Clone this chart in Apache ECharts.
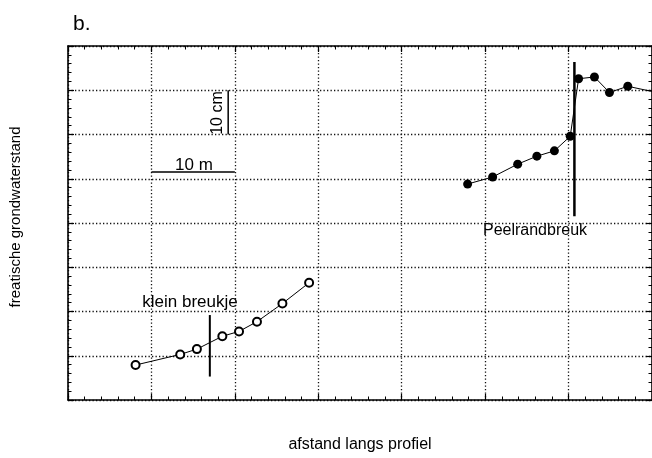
<!DOCTYPE html>
<html>
<head>
<meta charset="utf-8">
<script src="https://cdn.jsdelivr.net/npm/echarts@6/dist/echarts.min.js"></script>
<style>
  html, body { margin: 0; padding: 0; background: #fff; }
  #chart { width: 652px; height: 458px; }
</style>
</head>
<body>
<div id="chart"></div>
<script>
// afstand (m) en grondwaterstand (cm)
var kleinX = [8.1, 13.45, 15.45, 18.5, 20.5, 22.65, 25.7, 28.9]
var kleinY = [7.9, 10.3, 11.5, 14.4, 15.5, 17.7, 21.8, 26.5]

var peelX = [47.9, 50.9, 53.9, 56.2, 58.3, 60.2, 61.2, 63.1, 64.9, 67.1, 70.3]
var peelY = [48.8, 50.4, 53.3, 55.1, 56.3, 59.6, 72.6, 73.0, 69.5, 70.9, 69.6]

// breuken: x-positie en y van onder tot boven
var breukKleinX = [17.0, 17.0]
var breukKleinY = [5.3, 19.2]
var breukPeelX = [60.7, 60.7]
var breukPeelY = [41.5, 76.4]

// schaalstreepjes 10 m en 10 cm
var schaalMX = [10, 20]
var schaalMY = [51.5, 51.5]
var schaalCmX = [19.2, 19.2]
var schaalCmY = [60, 70]

function zip(xs, ys) {
  return xs.map(function(x, i) { return [x, ys[i]] })
}

var font = 'Liberation Sans, Arial, Helvetica, sans-serif'

function xas(pos, grid) {
  return {
    type: 'value',
    position: pos,
    min: 0,
    max: 70,
    interval: 10,
    axisLine: { show: true, onZero: false, lineStyle: { color: '#000', width: 1.6 } },
    axisTick: { show: true, inside: true, length: 6, lineStyle: { color: '#000', width: 1.2 } },
    minorTick: { show: true, splitNumber: 5, length: 3.5, lineStyle: { color: '#000', width: 1 } },
    axisLabel: { show: false },
    splitLine: { show: grid, lineStyle: { type: [1.3, 2.2], color: '#111', width: 1.3 } }
  }
}

function yas(pos, grid) {
  return {
    type: 'value',
    position: pos,
    min: 0,
    max: 80,
    interval: 10,
    axisLine: { show: true, onZero: false, lineStyle: { color: '#000', width: 1.6 } },
    axisTick: { show: true, inside: true, length: 6, lineStyle: { color: '#000', width: 1.2 } },
    minorTick: { show: true, splitNumber: 5, length: 3.5, lineStyle: { color: '#000', width: 1 } },
    axisLabel: { show: false },
    splitLine: { show: grid, lineStyle: { type: [1.3, 2.2], color: '#111', width: 1.3 } }
  }
}

var xBottom = xas('bottom', true)
xBottom.name = 'afstand langs profiel'
xBottom.nameLocation = 'middle'
xBottom.nameGap = 37
xBottom.nameTextStyle = { fontSize: 16, color: '#000', fontFamily: font }

var yLeft = yas('left', true)
yLeft.name = 'freatische grondwaterstand'
yLeft.nameLocation = 'middle'
yLeft.nameGap = 45
yLeft.nameTextStyle = { fontSize: 15, color: '#000', fontFamily: font, padding: [0, 0, 0, 12] }

var myChart = echarts.init(document.getElementById('chart'))
myChart.setOption({
  animation: false,
  backgroundColor: '#fff',
  textStyle: { fontFamily: font },
  title: {
    text: 'b.',
    left: 68,
    top: 9,
    textStyle: { fontSize: 21, fontWeight: 'normal', color: '#000', fontFamily: font }
  },
  grid: { left: 68, top: 46, right: -4, bottom: 50 },
  xAxis: [xBottom, xas('top', false)],
  yAxis: [yLeft, yas('right', false)],
  series: [
    {
      name: 'klein breukje',
      type: 'line',
      data: zip(kleinX, kleinY),
      symbol: 'emptyCircle',
      symbolSize: 8,
      lineStyle: { color: '#000', width: 1 },
      itemStyle: { color: '#000', borderWidth: 1 }
    },
    {
      name: 'Peelrandbreuk',
      type: 'line',
      data: zip(peelX, peelY),
      symbol: 'circle',
      symbolSize: 9,
      lineStyle: { color: '#000', width: 1 },
      itemStyle: { color: '#000' }
    },
    {
      type: 'line',
      data: zip(breukKleinX, breukKleinY),
      symbol: 'none',
      lineStyle: { color: '#000', width: 2 }
    },
    {
      type: 'line',
      data: zip(breukPeelX, breukPeelY),
      symbol: 'none',
      lineStyle: { color: '#000', width: 2.5 }
    },
    {
      type: 'line',
      data: zip(schaalMX, schaalMY),
      symbol: 'none',
      lineStyle: { color: '#000', width: 1.5 }
    },
    {
      type: 'line',
      data: zip(schaalCmX, schaalCmY),
      symbol: 'none',
      lineStyle: { color: '#000', width: 1.5 }
    }
  ],
  graphic: [
    {
      type: 'text', x: 194, y: 165,
      style: { text: '10 m', fill: '#000', font: '17px ' + font, textAlign: 'center', textVerticalAlign: 'middle' }
    },
    {
      type: 'text', x: 218, y: 113, rotation: Math.PI / 2,
      style: { text: '10 cm', fill: '#000', font: '16px ' + font, textAlign: 'center', textVerticalAlign: 'middle' }
    },
    {
      type: 'text', x: 190, y: 302,
      style: { text: 'klein breukje', fill: '#000', font: '17px ' + font, textAlign: 'center', textVerticalAlign: 'middle' }
    },
    {
      type: 'text', x: 535, y: 231,
      style: { text: 'Peelrandbreuk', fill: '#000', font: '16px ' + font, textAlign: 'center', textVerticalAlign: 'middle' }
    }
  ]
})
</script>
</body>
</html>
